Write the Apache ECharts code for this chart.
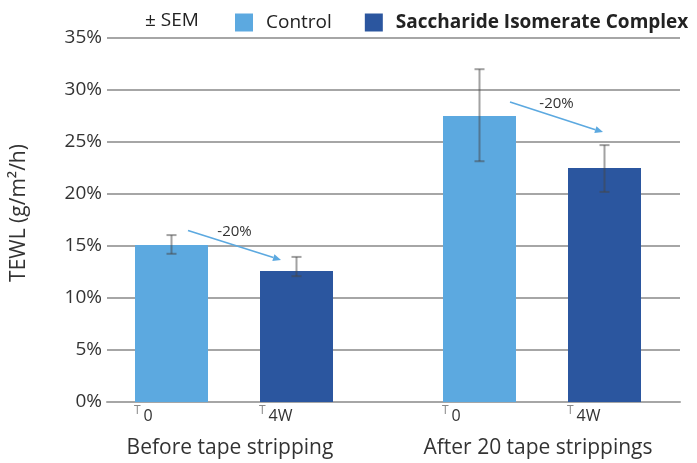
<!DOCTYPE html>
<html>
<head>
<meta charset="utf-8">
<script src="https://cdn.jsdelivr.net/npm/echarts@6/dist/echarts.min.js"></script>
<style>html,body{margin:0;padding:0;background:#fff}#c{width:697px;height:463px}</style>
</head>
<body>
<div id="c"></div>
<script>
const categories = ['Before tape stripping', 'After 20 tape strippings'];
const timepoints = ['0', '4W'];
const seriesNames = ['Control', 'Saccharide Isomerate Complex'];
const controlValues = [15.1, 27.5];
const sicValues = [12.6, 22.5];
const controlLow = [14.25, 23.15];
const controlHigh = [16.05, 32.0];
const sicLow = [12.1, 20.2];
const sicHigh = [13.95, 24.7];
const arrowLabels = ['-20%', '-20%'];
const arrowStart = [16.5, 28.85];
const arrowEnd = [13.65, 25.95];
const yMin = 0, yMax = 35, yStep = 5;

const FONT = 'Open Sans';
const C1 = '#5ca9e0', C2 = '#2b569f', GRID = '#a6a6a6';
const BAR_W = 73, BAR_GAP = 52;
const HALF = (BAR_W + BAR_GAP) / 2;

const chart = echarts.init(document.getElementById('c'));

function errRender(sign) {
  return function (params, api) {
    const x = api.coord([api.value(0), 0])[0] + sign * HALF;
    const lo = api.coord([api.value(0), api.value(1)])[1];
    const hi = api.coord([api.value(0), api.value(2)])[1];
    const style = { stroke: 'rgba(70,70,70,0.5)', lineWidth: 2 };
    return {
      type: 'group',
      children: [
        { type: 'line', shape: { x1: x, y1: hi, x2: x, y2: lo }, style },
        { type: 'line', shape: { x1: x - 5, y1: hi, x2: x + 5, y2: hi }, style },
        { type: 'line', shape: { x1: x - 5, y1: lo, x2: x + 5, y2: lo }, style }
      ]
    };
  };
}

const ARROW_DX = [[-46, 47], [-32, 61]];
function arrowRender(params, api) {
  const i = api.value(0);
  const cx = api.coord([i, 0])[0];
  const x1 = cx + ARROW_DX[i][0], x2 = cx + ARROW_DX[i][1];
  const y1 = api.coord([i, api.value(1)])[1];
  const y2 = api.coord([i, api.value(2)])[1];
  const ang = Math.atan2(y2 - y1, x2 - x1);
  const L = 8, W = 3.5;
  const bx = x2 - L * Math.cos(ang), by = y2 - L * Math.sin(ang);
  const px = -Math.sin(ang) * W, py = Math.cos(ang) * W;
  return {
    type: 'group',
    children: [
      { type: 'line', shape: { x1, y1, x2: bx, y2: by }, style: { stroke: C1, lineWidth: 1.6 } },
      { type: 'polygon', shape: { points: [[x2, y2], [bx + px, by + py], [bx - px, by - py]] }, style: { fill: C1 } },
      { type: 'text', x: (x1 + x2) / 2, y: (y1 + y2) / 2 - 13,
        style: { text: arrowLabels[i], fill: '#333', font: '15px "' + FONT + '"', align: 'center', verticalAlign: 'middle' } }
    ]
  };
}

function subLabel(name) {
  return {
    show: true,
    position: [0, '100%'],
    distance: 0,
    offset: [-1, 3],
    align: 'left',
    verticalAlign: 'top',
    formatter: '{t|T}{v|' + name + '}',
    rich: {
      t: { fontFamily: FONT, fontSize: 12, color: '#888', verticalAlign: 'top', padding: [0, 3, 3, 0] },
      v: { fontFamily: FONT, fontSize: 16, color: '#333', padding: [3, 0, 0, 0] }
    }
  };
}

chart.setOption({
  animation: false,
  textStyle: { fontFamily: FONT },
  grid: [
    { left: 107, right: 17, top: 38, bottom: 61 },
    { left: 80, right: 1, top: 38, bottom: 61 }
  ],
  legend: {
    left: 235, top: 13, width: 470, padding: 0,
    orient: 'horizontal',
    itemWidth: 18, itemHeight: 18, itemGap: 33,
    icon: 'rect',
    textStyle: { fontFamily: FONT, fontSize: 19, color: '#222', padding: [0, 0, 0, 8] },
    data: [
      { name: seriesNames[0] },
      { name: seriesNames[1], textStyle: { fontWeight: 'bold', fontSize: 19 } }
    ]
  },
  graphic: [
    { type: 'text', left: 145, top: 11, style: { text: '± SEM', fill: '#222', font: '19px "' + FONT + '"' } }
  ],
  xAxis: [
    { gridIndex: 0, type: 'category', data: categories,
      axisLine: { show: true, lineStyle: { color: GRID, width: 2 } },
      axisTick: { show: false }, axisLabel: { show: false } },
    { gridIndex: 1, type: 'category', data: categories,
      axisLine: { show: false }, axisTick: { show: false },
      axisLabel: { margin: 36, fontSize: 21, color: '#333', fontFamily: FONT,
                   padding: [0, 8, 0, 0] } }
  ],
  yAxis: [
    { gridIndex: 0, type: 'value', min: yMin, max: yMax, interval: yStep,
      name: 'TEWL (g/m²/h)', nameLocation: 'middle', nameGap: 77,
      nameTextStyle: { fontSize: 21, color: '#333', fontFamily: FONT, padding: [0, 0, 0, 14] },
      axisLine: { show: false }, axisTick: { show: false },
      axisLabel: { formatter: '{value}%', fontSize: 19, color: '#333', margin: 5,
                   verticalAlign: 'middle', padding: [0, 0, 14, 0] },
      splitLine: { lineStyle: { color: GRID, width: 2 } } },
    { gridIndex: 1, type: 'value', min: yMin, max: yMax, interval: yStep, show: false,
      splitLine: { show: false } }
  ],
  series: [
    { name: seriesNames[0], type: 'bar', xAxisIndex: 1, yAxisIndex: 1,
      data: controlValues, barWidth: BAR_W, barGap: (BAR_GAP / BAR_W * 100) + '%',
      itemStyle: { color: C1 }, label: subLabel(timepoints[0]) },
    { name: seriesNames[1], type: 'bar', xAxisIndex: 1, yAxisIndex: 1,
      data: sicValues, barWidth: BAR_W,
      itemStyle: { color: C2 }, label: subLabel(timepoints[1]) },
    { type: 'custom', xAxisIndex: 1, yAxisIndex: 1, z: 5,
      data: categories.map((c, i) => [i, controlLow[i], controlHigh[i]]),
      renderItem: errRender(-1) },
    { type: 'custom', xAxisIndex: 1, yAxisIndex: 1, z: 5,
      data: categories.map((c, i) => [i, sicLow[i], sicHigh[i]]),
      renderItem: errRender(1) },
    { type: 'custom', xAxisIndex: 1, yAxisIndex: 1, z: 6,
      data: categories.map((c, i) => [i, arrowStart[i], arrowEnd[i]]),
      renderItem: arrowRender }
  ]
});
</script>
</body>
</html>
